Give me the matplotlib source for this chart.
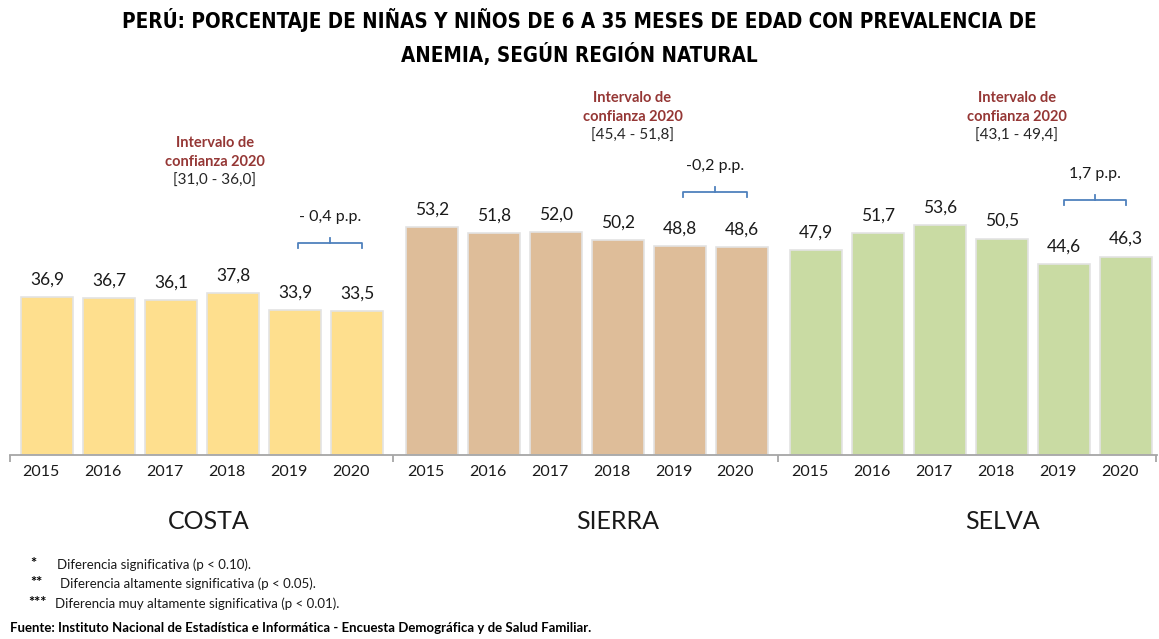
import matplotlib.pyplot as plt
from matplotlib import font_manager

# datos
regiones = ['COSTA', 'SIERRA', 'SELVA']
anios = ['2015', '2016', '2017', '2018', '2019', '2020']
costa = [36.9, 36.7, 36.1, 37.8, 33.9, 33.5]
sierra = [53.2, 51.8, 52.0, 50.2, 48.8, 48.6]
selva = [47.9, 51.7, 53.6, 50.5, 44.6, 46.3]
intervalos = ['[31,0 - 36,0]', '[45,4 - 51,8]', '[43,1 - 49,4]']
diferencias = ['- 0,4 p.p.', '-0,2 p.p.', '1,7 p.p.']
colores = ['#FEDF8E', '#DEBD99', '#C9DBA3']

valores = [costa, sierra, selva]

W, H = 1159, 639
fig = plt.figure(figsize=(W / 100, H / 100), dpi=100)

# eje en pixeles: base en y=455, 4.285 px por unidad
base_px, top_px = 455, 85
px_unidad = 4.285
ax = fig.add_axes([10 / W, (H - base_px) / H, 1147 / W, (base_px - top_px) / H])
ax.set_xlim(-0.6, 17.9)
ax.set_ylim(0, (base_px - top_px) / px_unidad)


def y_dato(py):
    # pixel vertical de la figura -> valor del eje
    return (base_px - py) / px_unidad


fuente = ['Lato', 'DejaVu Sans']
paso_grupo = 6.2

for g, vals in enumerate(valores):
    xs = [g * paso_grupo + i for i in range(len(vals))]
    ax.bar(xs, vals, width=0.84, color=colores[g], edgecolor='#e3e3e3', linewidth=1.2)
    for x, v, a in zip(xs, vals, anios):
        ax.text(x, v + 4.1, f'{v:.1f}'.replace('.', ','), ha='center', va='center',
                fontsize=12.5, family=fuente, color='#1a1a1a')
        ax.text(x - 0.1, -4.0, a, ha='center', va='center', fontsize=11.5,
                family=fuente, color='#1a1a1a')
    cx = g * paso_grupo + 2.5
    ax.text(cx + 0.4 * (g > 0) + 0.1, -15.5, regiones[g], ha='center', va='center',
            fontsize=18, family=fuente, color='#1a1a1a')

# intervalos de confianza
pos_int = [(2.7, 143), (paso_grupo + 3.24, 98), (2 * paso_grupo + 3.24, 98)]
for (x, py), txt in zip(pos_int, intervalos):
    ax.text(x, y_dato(py), 'Intervalo de', ha='center', va='center',
            fontsize=10.5, fontweight='bold', family=fuente, color='#953735')
    ax.text(x, y_dato(py + 19), 'confianza 2020', ha='center', va='center',
            fontsize=10.5, fontweight='bold', family=fuente, color='#953735')
    ax.text(x, y_dato(py + 38), txt, ha='center', va='center', fontsize=11,
            family=fuente, color='#262626')

# llaves de diferencia
pos_llave = [(4.05, 5.08, 49.5), (paso_grupo + 4.05, paso_grupo + 5.08, 61.4),
             (2 * paso_grupo + 4.0, 2 * paso_grupo + 5.0, 59.5)]
for (x0, x1, y), txt in zip(pos_llave, diferencias):
    xm = (x0 + x1) / 2
    ax.plot([x0, x0, x1, x1], [y - 1.2, y, y, y - 1.2], color='#4F81BD', lw=1.3,
            solid_joinstyle='round')
    ax.plot([xm, xm], [y, y + 1.2], color='#4F81BD', lw=1.3)
    ax.text(xm, y + 6.0, txt, ha='center', va='center', fontsize=11.5,
            family=fuente, color='#1a1a1a')

for s in ['top', 'right', 'left']:
    ax.spines[s].set_visible(False)
ax.spines['bottom'].set_color('#a6a6a6')
ax.spines['bottom'].set_linewidth(1.3)
ax.set_yticks([])
ax.set_xticks([-0.6, 5.58, 11.79, 17.88])
ax.set_xticklabels([])
ax.tick_params(axis='x', length=5, width=1.3, color='#a6a6a6')

# titulo: fuente estrecha si existe
prop_cond = font_manager.FontProperties(family='DejaVu Sans', stretch='condensed',
                                        weight='bold')
ruta = font_manager.findfont(prop_cond, fallback_to_default=False)
if 'Condensed' in ruta:
    prop_titulo = font_manager.FontProperties(fname=ruta, size=14.8)
else:
    prop_titulo = font_manager.FontProperties(family=['Roboto', 'DejaVu Sans'],
                                              weight='bold', size=15)
titulo = ('PERÚ: PORCENTAJE DE NIÑAS Y NIÑOS DE 6 A 35 MESES DE EDAD CON PREVALENCIA DE\n'
          'ANEMIA, SEGÚN REGIÓN NATURAL')
fig.text(579 / W, 1 - 37 / H, titulo, ha='center', va='center',
         fontproperties=prop_titulo, linespacing=1.55)

# notas
notas = [('*', 30, 57, 'Diferencia significativa (p < 0.10).', 565),
         ('**', 30, 60, 'Diferencia altamente significativa (p < 0.05).', 584),
         ('***', 28, 55, 'Diferencia muy altamente significativa (p < 0.01).', 604)]
for marca, xm, xt, txt, y in notas:
    fig.text(xm / W, 1 - (y - 1) / H, marca, ha='left', va='center', fontsize=10.5,
             fontweight='bold', family=fuente)
    fig.text(xt / W, 1 - y / H, txt, ha='left', va='center', fontsize=9.5,
             family=fuente, color='#1a1a1a')
fig.text(10 / W, 1 - 628 / H,
         'Fuente: Instituto Nacional de Estadística e Informática - Encuesta Demográfica y de Salud Familiar.',
         ha='left', va='center', fontsize=9.5, fontweight='bold', family=fuente)

fig.savefig('out.png', dpi=100)
